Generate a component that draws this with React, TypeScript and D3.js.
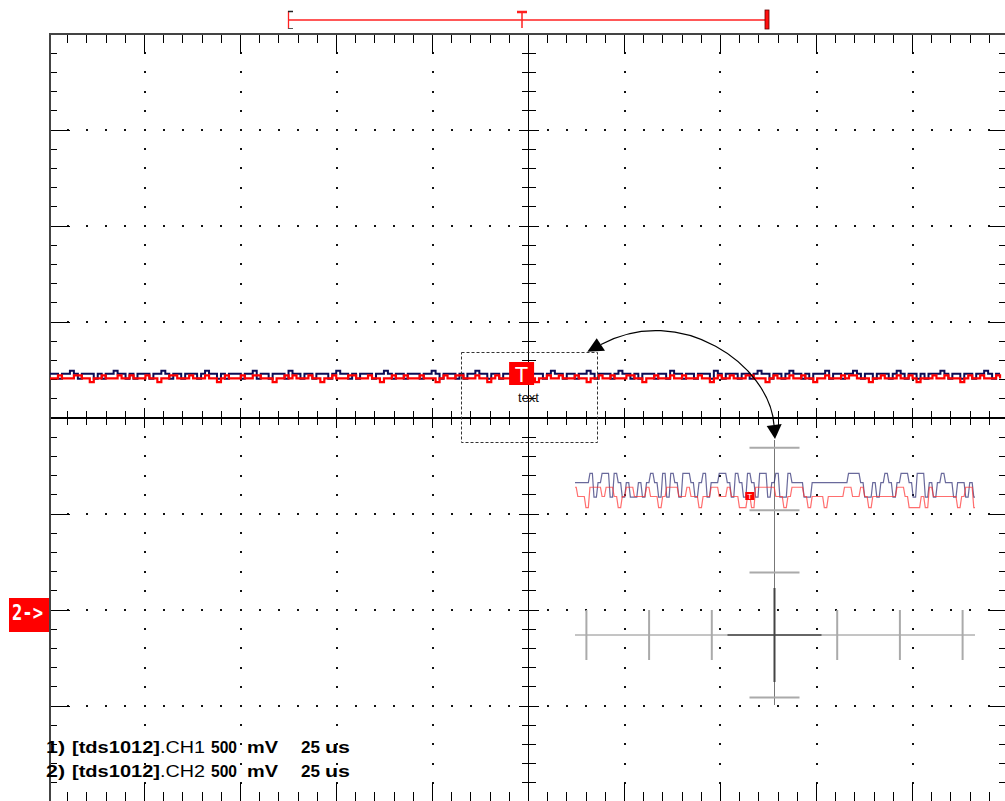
import React from 'react';
import * as d3 from 'd3';

// ---- scope settings ----
const scopeName = 'tds1012';
const channelNames = ['CH1', 'CH2'];
const voltsLabel = ['500 mV', '500 mV'];
const timeLabel = ['25 us', '25 us'];
const voltsPerDiv = 0.5; // V
const timePerDivUs = 25; // us
const ch2GroundDiv = -2; // "2->" marker
const triggerTimeUs = -1.8;
const triggerLabel = 'text';

// ---- signal levels (V) ----
const ch1Levels = [0.205, 0.230, 0.246];
const ch2Levels = [1.187, 1.206, 1.222];

// main screen traces (level index per sample)
const ch1Main = [
  1,1,0,1,1,2,1,0,1,1,1,0,1,0,1,1,2,1,1,0,
  1,0,1,1,1,0,1,1,2,1,0,1,1,0,1,1,1,0,1,2,
  1,1,0,1,0,1,1,1,0,1,1,2,0,1,1,0,1,1,1,0,
  2,1,1,0,1,1,0,1,1,1,0,1,2,1,1,0,1,0,1,1,
  1,0,1,1,2,1,0,1,1,0,1,1,1,0,1,1,2,1,0,1,
  1,1,0,1,0,1,1,2,1,1,0,1,1,0,1,1,1,0,2,1,
  0,1,1,1,0,1,2,1,1,0,1,1,0,1,1,2,1,0,1,1,
  1,0,1,2,1,1,0,1,0,1,1,1,0,1,1,0,2,1,1,0,
  1,1,0,1,1,1,0,2,1,0,1,1,1,0,1,1,0,1,2,1,
  1,0,1,1,0,1,2,1,1,0,1,0,1,1,1,2,0,1,1,0,
  1,1,2,1,0,1,1,0,1,1,1,0,1,2,1,0,1,1,0,1,
  0,1,1,1,2,1,0,1,1,0,1,1,0,1,1,2,1,0,1,1,
];
const ch2Main = [
  1,1,2,1,1,1,2,2,1,1,0,1,1,2,1,1,1,2,1,1,
  2,1,1,1,2,1,1,0,1,1,2,2,1,1,1,2,1,1,1,2,
  1,1,0,1,2,1,1,1,2,1,1,2,2,1,1,1,0,1,1,2,
  1,2,1,1,1,2,1,1,0,1,1,2,1,1,1,2,2,1,1,1,
  2,1,1,0,1,1,2,1,1,2,1,1,1,2,1,1,1,0,1,2,
  1,1,2,2,1,1,1,2,1,1,0,1,2,1,1,1,2,1,1,1,
  2,1,0,1,1,2,1,1,2,1,1,1,2,1,1,0,1,1,2,1,
  1,2,1,1,1,2,2,1,1,0,1,1,2,1,1,1,2,1,1,2,
  1,1,1,2,1,1,0,1,2,1,1,2,1,1,1,2,2,1,1,1,
  0,1,2,1,1,1,2,1,1,2,1,1,0,1,1,2,1,1,1,2,
  1,2,2,1,1,1,0,1,1,2,1,1,1,2,1,1,2,1,0,1,
  1,1,2,1,1,2,1,1,1,0,1,2,1,1,2,1,1,1,2,1,
];
const mainStartUs = -124.6;
const mainEndUs = 122.8;

// zoomed view traces (level index per sample)
const ch1Zoom = [
  1,1,1,1, 2,0,1, 2,2,0,2, 1,0,1,0,0,1,0,1, 2,1,0, 2,0,2,1,0,2,2,1,0,1,
  2,0,1,1,2, 2,1,0,2,1, 0,2,1,0,2, 2,0,1,2,0,0,2, 1,1,1,0,0,1,1,1,1,1,1,1,1,1,
  2,2,2,1,0, 0,1,0,1, 2,1,0,1,2,2,1,0,2,2,0,1,0,1,2, 1,1,0,1,1,0,1,0,
];
const ch2Zoom = [
  2,1,1,0,2,2,2,1,2,2, 1,0,1,2,2,1,1,1,2,1, 1,0,1,2,2,2,1,1,2,1, 1,0,1,1,2,2,1,1,2,1,
  1,0,0,1,0,2,2,2,2,2, 1,1,0,1,2,2,2,1,0,1, 1,1,0,1,1,1,1,2,2,1, 1,2,1,0,1,1,1,1,1,1,
  2,2,1,0,0,0,1,0,2,1, 1,1,1,1,1,0,1,2,2,0,
];
const zoomHalfWindowUs = 16.2;

const FONT = 'Liberation Sans, Arial, sans-serif';

export default function App() {
  // main screen scales (divisions -> px)
  const xd = d3.scaleLinear().domain([-5, 5]).range([48.5, 1008.5]);
  const y = d3.scaleLinear().domain([-4, 4]).range([802, 34]);
  const xt = (t: number) => xd(t / timePerDivUs);
  const left = 50;
  const right = 1008.5;
  const top = 34;
  const bottom = 802;
  const cx = xd(0);
  const cy = y(0);

  const minorX = d3.range(-25, 26).map((i) => i / 5);
  const minorY = d3.range(-20, 21).map((i) => i / 5);
  const isMajor = (v: number) => Math.abs(v - Math.round(v)) < 1e-6;

  const grid: React.ReactNode[] = [];
  // dotted grid columns/rows
  d3.range(-4, 5).filter((c) => c !== 0).forEach((c) => {
    minorY.filter((v) => v > -4 && v < 4).forEach((v, i) => {
      grid.push(<rect key={`dc${c}_${i}`} x={Math.round(xd(c)) - 1} y={Math.round(y(v)) - 1} width={2} height={2} fill="#111" />);
    });
  });
  d3.range(-3, 4).filter((r) => r !== 0).forEach((r) => {
    minorX.filter((v) => v > -5 && v < 5 && !isMajor(v)).forEach((v, i) => {
      grid.push(<rect key={`dr${r}_${i}`} x={Math.round(xd(v)) - 1} y={Math.round(y(r)) - 1} width={2} height={2} fill="#111" />);
    });
  });
  // edge ticks top/bottom + center horizontal line ticks
  minorX.filter((v) => v > -5 && v < 5).forEach((v, i) => {
    const X = xd(v);
    const mj = isMajor(v);
    grid.push(<line key={`tt${i}`} x1={X} x2={X} y1={top} y2={top + (mj ? 20 : 9)} stroke="#000" />);
    grid.push(<line key={`tb${i}`} x1={X} x2={X} y1={bottom} y2={bottom - (mj ? 19 : 10)} stroke="#000" />);
    if (v !== 0) {
      const h = mj ? 10 : 7;
      grid.push(<line key={`tc${i}`} x1={X} x2={X} y1={cy - h} y2={cy + h} stroke="#000" />);
    }
  });
  // edge ticks left/right + center vertical line ticks
  minorY.filter((v) => v > -4 && v < 4).forEach((v, i) => {
    const Y = y(v);
    const mj = isMajor(v);
    grid.push(<line key={`tl${i}`} x1={left} x2={left + (mj ? 20 : 7)} y1={Y} y2={Y} stroke="#000" />);
    grid.push(<line key={`tr${i}`} x1={right} x2={right - (mj ? 20 : 10)} y1={Y} y2={Y} stroke="#000" />);
    const h = v === 0 ? 15 : mj ? 10 : 7;
    grid.push(<line key={`tv${i}`} x1={cx - h} x2={cx + h} y1={Y} y2={Y} stroke="#000" strokeWidth={v === 0 ? 2 : 1} />);
  });

  // main traces
  const mainDt = (mainEndUs - mainStartUs) / (ch1Main.length - 1);
  const line1 = d3.line<number>()
    .x((_, i) => xt(mainStartUs + i * mainDt))
    .y((d) => y(ch1Levels[d] / voltsPerDiv))
    .curve(d3.curveStepAfter);
  const line2 = d3.line<number>()
    .x((_, i) => xt(mainStartUs + i * mainDt))
    .y((d) => y(ch2Levels[d] / voltsPerDiv + ch2GroundDiv))
    .curve(d3.curveStepAfter);

  // zoom view: each sample is a short plateau joined by sloped edges
  const zx = d3.scaleLinear().domain([-zoomHalfWindowUs, zoomHalfWindowUs]).range([575, 975]);
  const zy = d3.scaleLinear().domain([0, 0.5]).range([616, 471]);
  const zDt = (2 * zoomHalfWindowUs) / (ch1Zoom.length - 1);
  type P = { t: number; v: number };
  const plateaus = (codes: number[], levels: number[], offsetDiv: number): P[] =>
    codes.flatMap((c, i) => {
      const t = -zoomHalfWindowUs + i * zDt;
      const v = levels[c] / voltsPerDiv + offsetDiv;
      return [
        { t: Math.max(-zoomHalfWindowUs, t - 0.3 * zDt), v },
        { t: Math.min(zoomHalfWindowUs, t + 0.3 * zDt), v },
      ];
    });
  const zline = d3.line<P>().x((p) => zx(p.t)).y((p) => zy(p.v));
  const zcx = 774.5;
  const zcy = 635;
  const zStep = 62.7;

  const trigX = xt(triggerTimeUs);
  const gY = y(ch2GroundDiv);
  const ztrigX = zx(triggerTimeUs) - 3;

  const legendRows = channelNames.map((ch, i) => ({
    idx: `${i + 1})`,
    dev: `[${scopeName}]`,
    ch: `.${ch}`,
    v: voltsLabel[i].split(' '),
    t: timeLabel[i].split(' '),
    base: 753 + i * 24,
  }));

  return (
    <svg width={1005} height={801} style={{ position: 'absolute', left: 0, top: 0, background: '#fff' }} fontFamily={FONT}>
      <rect x={0} y={0} width={1005} height={801} fill="#fff" />
      {/* top record bracket */}
      <g>
        <line x1={288} x2={767} y1={20} y2={20} stroke="#ff2020" strokeWidth={1.3} />
        <line x1={288.5} x2={288.5} y1={11} y2={29} stroke="#ff2020" strokeWidth={1.3} />
        <line x1={288} x2={293} y1={11.5} y2={11.5} stroke="#222" strokeWidth={1.5} />
        <line x1={288} x2={293} y1={28.5} y2={28.5} stroke="#555" strokeWidth={1} />
        <rect x={765} y={10} width={4} height={19} fill="#ff1010" stroke="#600" strokeWidth={0.8} />
        <line x1={517} x2={527} y1={12} y2={12} stroke="#ff2020" strokeWidth={2.5} />
        <line x1={522} x2={522} y1={12} y2={28} stroke="#ff2020" strokeWidth={1.5} />
      </g>

      {/* graticule */}
      <g shapeRendering="crispEdges">
        {grid}
        <line x1={left} x2={right} y1={cy} y2={cy} stroke="#000" strokeWidth={1.5} />
        <line x1={cx} x2={cx} y1={top} y2={bottom} stroke="#000" strokeWidth={1.5} />
        <rect x={left} y={top} width={right - left} height={bottom - top} fill="none" stroke="#444" strokeWidth={1.8} />
      </g>

      {/* main traces */}
      <path d={line1(ch1Main) ?? ''} fill="none" stroke="#0c0c55" strokeWidth={2} />
      <path d={line2(ch2Main) ?? ''} fill="none" stroke="#ff0000" strokeWidth={2.2} />

      {/* trigger marker */}
      <rect x={trigX - 12.5} y={362} width={25} height={23} fill="#ff0000" />
      <text x={trigX} y={382} textAnchor="middle" fill="#fff" fontSize={22}>T</text>
      <text x={cx} y={402} textAnchor="middle" fill="#111" fontSize={13}>{triggerLabel}</text>

      {/* zoom selection rectangle */}
      <rect x={461.5} y={352.5} width={136} height={90} fill="none" stroke="#333" strokeWidth={1} strokeDasharray="3,2" />

      {/* curved double arrow */}
      <path d="M601,344.5 C680,302 770,365 774,425" fill="none" stroke="#000" strokeWidth={1.2} />
      <polygon points="587.3,351.7 596.7,338.3 605,350.7" fill="#000" />
      <polygon points="775,439 766.7,426 781.7,424" fill="#000" />

      {/* zoom view axes */}
      <g>
        <line x1={575} x2={975} y1={zcy} y2={zcy} stroke="#8a8a8a" strokeWidth={1} />
        <line x1={zcx} x2={zcx} y1={440} y2={705} stroke="#777" strokeWidth={1} />
        {[-3, -2, -1, 1, 2, 3].map((k) => (
          <line key={`zv${k}`} x1={zcx + k * zStep} x2={zcx + k * zStep} y1={zcy - 25} y2={zcy + 25} stroke="#aaa" strokeWidth={2} />
        ))}
        {[-3, -2, -1, 1].map((k) => (
          <line key={`zh${k}`} x1={zcx - 25} x2={zcx + 25} y1={zcy + k * zStep * 0.995} y2={zcy + k * zStep * 0.995} stroke="#aaa" strokeWidth={2} />
        ))}
        <line x1={zcx - 47} x2={zcx + 47} y1={zcy} y2={zcy} stroke="#666" strokeWidth={2} />
        <line x1={zcx} x2={zcx} y1={zcy - 47} y2={zcy + 47} stroke="#444" strokeWidth={2} />
      </g>
      {/* zoom traces */}
      <path d={zline(plateaus(ch1Zoom, ch1Levels, 0)) ?? ''} fill="none" stroke="#2a2a70" strokeOpacity={0.7} strokeWidth={1.2} />
      <path d={zline(plateaus(ch2Zoom, ch2Levels, ch2GroundDiv)) ?? ''} fill="none" stroke="#ff3030" strokeOpacity={0.7} strokeWidth={1.2} />
      <rect x={ztrigX - 4.5} y={492} width={9} height={8} fill="#ff0000" />
      <text x={ztrigX} y={499} textAnchor="middle" fill="#fff" fontSize={8}>T</text>

      {/* channel 2 ground marker */}
      <rect x={9} y={gY - 12} width={40} height={34} fill="#ff0000" />
      <text x={12} y={gY + 10} fill="#fff" fontSize={22} fontWeight="bold" fontFamily="DejaVu Sans Mono, monospace" textLength={31} lengthAdjust="spacingAndGlyphs">2-&gt;</text>

      {/* channel legend */}
      {legendRows.map((r, i) => (
        <g key={`lg${i}`} fill="#000" fontSize={17}>
          <text x={46} y={r.base} fontWeight="bold" textLength={19} lengthAdjust="spacingAndGlyphs">{r.idx}</text>
          <text x={72} y={r.base} fontWeight="bold" textLength={88} lengthAdjust="spacingAndGlyphs">{r.dev}</text>
          <text x={160} y={r.base} textLength={45} lengthAdjust="spacingAndGlyphs">{r.ch}</text>
          <text x={211} y={r.base} fontWeight="bold" textLength={26} lengthAdjust="spacingAndGlyphs">{r.v[0]}</text>
          <text x={247} y={r.base} fontWeight="bold" textLength={31} lengthAdjust="spacingAndGlyphs">{r.v[1]}</text>
          <text x={301} y={r.base} fontWeight="bold" textLength={19} lengthAdjust="spacingAndGlyphs">{r.t[0]}</text>
          <text x={325} y={r.base} fontWeight="bold" textLength={25} lengthAdjust="spacingAndGlyphs">{r.t[1]}</text>
        </g>
      ))}
    </svg>
  );
}
